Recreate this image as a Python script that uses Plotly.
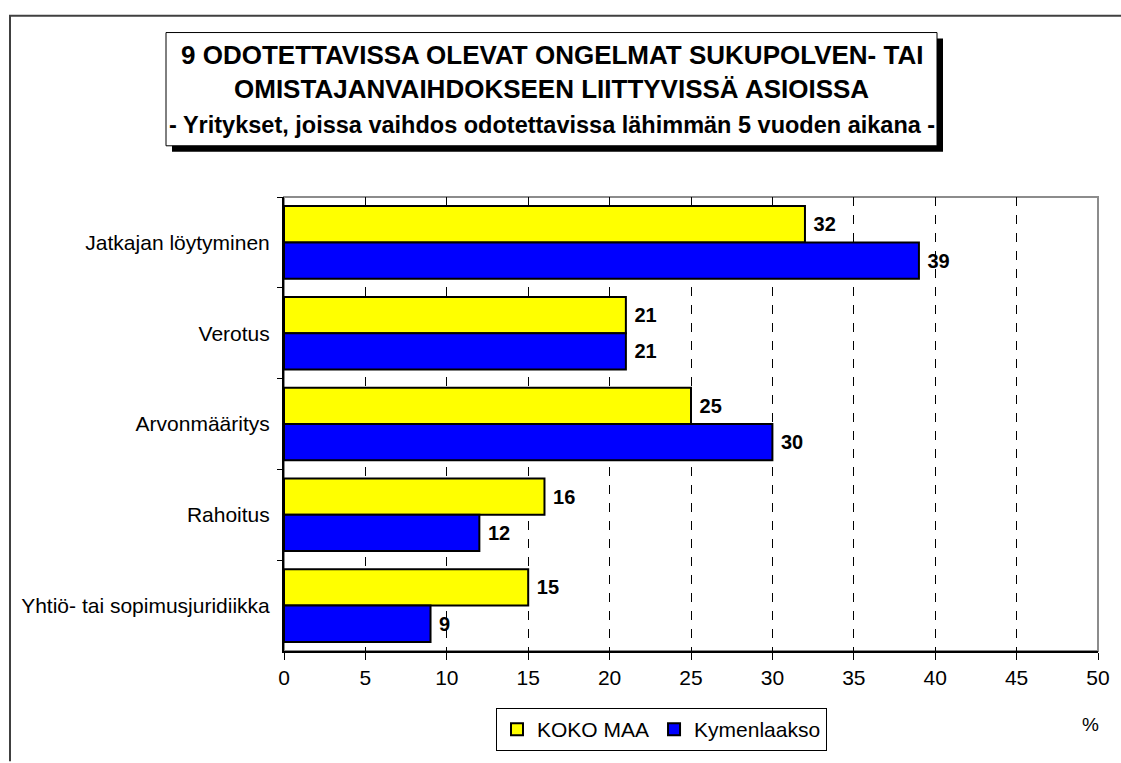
import plotly.graph_objects as go

categories = ["Jatkajan löytyminen", "Verotus", "Arvonmääritys", "Rahoitus",
              "Yhtiö- tai sopimusjuridiikka"]
koko_maa = [32, 21, 25, 16, 15]
kymenlaakso = [39, 21, 30, 12, 9]
series_names = ["KOKO MAA", "Kymenlaakso"]
x_ticks = [0, 5, 10, 15, 20, 25, 30, 35, 40, 45, 50]

W, H = 1121, 763
L, R, T, B = 284, 1098, 197, 658
FONT = "Arial, Liberation Sans, sans-serif"


def px(x):
    return (x - L) / (R - L)


def py(y):
    return (B - y) / (B - T)


label_tmpl = "\u00a0%{x}"

fig = go.Figure()
fig.add_trace(go.Bar(
    y=categories, x=koko_maa, name=series_names[0], orientation="h",
    marker=dict(color="#FFFF00", line=dict(color="black", width=2)),
    texttemplate=label_tmpl, textposition="outside",
    textfont=dict(family=FONT, size=20, color="black", weight="bold"),
    cliponaxis=False,
))
fig.add_trace(go.Bar(
    y=categories, x=kymenlaakso, name=series_names[1], orientation="h",
    marker=dict(color="#0000FF", line=dict(color="black", width=2)),
    texttemplate=label_tmpl, textposition="outside",
    textfont=dict(family=FONT, size=20, color="black", weight="bold"),
    cliponaxis=False,
))

shapes = [
    # outer frame (left + top)
    dict(type="path", xref="paper", yref="paper",
         path=f"M {px(10)} {py(770)} L {px(10)} {py(13)} L {px(1130)} {py(13)}",
         line=dict(color="#404040", width=2), layer="above"),
    # plot area gray border
    dict(type="rect", xref="paper", yref="paper", x0=0, x1=1, y0=0, y1=1,
         line=dict(color="#8c8c8c", width=2), layer="below"),
    # title shadow
    dict(type="rect", xref="paper", yref="paper",
         x0=px(172), x1=px(943), y0=py(151), y1=py(36),
         fillcolor="black", line=dict(width=0), layer="above"),
    # title box
    dict(type="rect", xref="paper", yref="paper",
         x0=px(166), x1=px(937), y0=py(145), y1=py(30),
         fillcolor="white", line=dict(color="black", width=1), layer="above"),
]

cx = px((166 + 937) / 2)
annotations = [
    dict(text="<b>9 ODOTETTAVISSA OLEVAT ONGELMAT SUKUPOLVEN- TAI</b>",
         x=cx, y=py(53), xref="paper", yref="paper", showarrow=False,
         font=dict(family=FONT, size=26, color="black"), xanchor="center", yanchor="middle"),
    dict(text="<b>OMISTAJANVAIHDOKSEEN LIITTYVISSÄ ASIOISSA</b>",
         x=cx, y=py(87), xref="paper", yref="paper", showarrow=False,
         font=dict(family=FONT, size=26, color="black"), xanchor="center", yanchor="middle"),
    dict(text="<b>- Yritykset, joissa vaihdos odotettavissa lähimmän 5 vuoden aikana -</b>",
         x=cx, y=py(124), xref="paper", yref="paper", showarrow=False,
         font=dict(family=FONT, size=23.5, color="black"), xanchor="center", yanchor="middle"),
    dict(text="%", x=px(1090), y=py(733), xref="paper", yref="paper", showarrow=False,
         font=dict(family=FONT, size=19, color="black"), xanchor="center", yanchor="middle"),
]

fig.update_layout(
    width=W, height=H,
    margin=dict(l=L, r=W - R, t=T, b=H - B, pad=0),
    paper_bgcolor="white", plot_bgcolor="white",
    barmode="group", bargap=0.2, bargroupgap=0,
    font=dict(family=FONT, size=21, color="black"),
    showlegend=True,
    legend=dict(orientation="h", x=px(496), y=py(716), xanchor="left", yanchor="top",
                bordercolor="black", borderwidth=1, bgcolor="white",
                font=dict(family=FONT, size=21, color="black"),
                traceorder="normal", itemwidth=30),
    shapes=shapes, annotations=annotations,
)
fig.update_xaxes(range=[0, 50], tickvals=x_ticks, ticktext=[str(v) for v in x_ticks],
                 showgrid=True, gridcolor="black", gridwidth=1, griddash="dash",
                 showline=True, linecolor="black", linewidth=2,
                 ticks="outside", ticklen=7, tickcolor="black", tickwidth=1,
                 tickfont=dict(family=FONT, size=21, color="black"), zeroline=False)
fig.update_yaxes(autorange="reversed", showgrid=False,
                 showline=True, linecolor="black", linewidth=2,
                 ticks="outside", ticklen=5, tickcolor="black", tickson="boundaries",
                 ticklabelstandoff=8,
                 tickfont=dict(family=FONT, size=21, color="black"))

fig.write_html("out.html",
               config={"displayModeBar": False},
               post_script="document.body.style.margin='0px';"
                           "document.body.style.overflow='hidden';")
